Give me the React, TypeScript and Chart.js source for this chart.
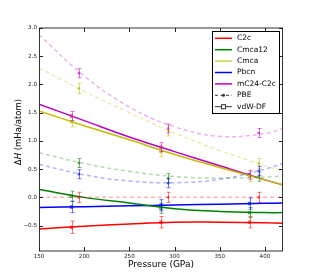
import { useEffect, useRef } from "react";
import { Chart, registerables } from "chart.js";
Chart.register(...registerables);

const seriesNames = ["C2c", "Cmca12", "Cmca", "Pbcn", "mC24-C2c"];
const seriesColors = ["#ff0000", "#008000", "#bfbf00", "#0000ff", "#bf00bf"];

// fitted curves (pressure grid)
const curveP = [150, 200, 250, 300, 350, 400, 420];
const vdwC2c = [-0.56, -0.51, -0.47, -0.44, -0.44, -0.45, -0.46];
const vdwCmca12 = [0.14, 0.0, -0.1, -0.2, -0.25, -0.27, -0.27];
const vdwCmca = [1.53, 1.27, 1.02, 0.76, 0.53, 0.31, 0.22];
const vdwPbcn = [-0.18, -0.165, -0.15, -0.135, -0.12, -0.105, -0.1];
const vdwMC24 = [1.65, 1.36, 1.07, 0.81, 0.56, 0.31, 0.22];

const pbeC2c = [0, 0, 0, 0, 0, 0, 0];
const pbeCmca12 = [0.79, 0.6, 0.46, 0.37, 0.34, 0.36, 0.38];
const pbeCmca = [2.29, 1.88, 1.5, 1.14, 0.83, 0.56, 0.47];
const pbePbcn = [0.585, 0.4, 0.29, 0.26, 0.32, 0.5, 0.6];
const pbeMC24 = [2.88, 2.15, 1.6, 1.25, 1.08, 1.13, 1.22];

// computed points with error bars
const vdwPtP = [186, 285, 383];
const pbePtP = [194, 293, 393];
const vdwPts = [
  [-0.53, -0.44, -0.44],
  [0.02, -0.195, -0.27],
  [1.34, 0.81, 0.37],
  [-0.17, -0.14, -0.11],
  [1.44, 0.89, 0.4],
];
const pbePts = [
  [0, 0, 0],
  [0.61, 0.34, 0.365],
  [1.93, 1.18, 0.6],
  [0.41, 0.25, 0.47],
  [2.2, 1.22, 1.14],
];
const vdwErr = [
  [0.11, 0.1, 0.1],
  [0.09, 0.09, 0.09],
  [0.09, 0.09, 0.09],
  [0.1, 0.1, 0.1],
  [0.08, 0.08, 0.08],
];
const pbeErr = [
  [0.09, 0.09, 0.09],
  [0.08, 0.08, 0.08],
  [0.09, 0.09, 0.09],
  [0.08, 0.08, 0.08],
  [0.08, 0.08, 0.08],
];

const xTicks = [150, 200, 250, 300, 350, 400];
const yTicks = [-0.5, 0, 0.5, 1, 1.5, 2, 2.5, 3];

function rgba(hex: string, a: number) {
  const r = parseInt(hex.slice(1, 3), 16);
  const g = parseInt(hex.slice(3, 5), 16);
  const b = parseInt(hex.slice(5, 7), 16);
  return `rgba(${r},${g},${b},${a})`;
}

const FONT = "'DejaVu Sans', sans-serif";

const decorPlugin = {
  id: "decor",
  afterDatasetsDraw(chart: any) {
    const ctx = chart.ctx;
    const xs = chart.scales.x;
    const ys = chart.scales.y;
    ctx.save();
    chart.data.datasets.forEach((ds: any) => {
      if (!ds.errs) return;
      ctx.strokeStyle = ds.errColor;
      ctx.lineWidth = 1;
      ds.data.forEach((pt: any, i: number) => {
        const x = Math.round(xs.getPixelForValue(pt.x)) + 0.5;
        const y1 = ys.getPixelForValue(pt.y - ds.errs[i]);
        const y2 = ys.getPixelForValue(pt.y + ds.errs[i]);
        ctx.beginPath();
        ctx.moveTo(x, y1);
        ctx.lineTo(x, y2);
        ctx.moveTo(x - 2, y1);
        ctx.lineTo(x + 2, y1);
        ctx.moveTo(x - 2, y2);
        ctx.lineTo(x + 2, y2);
        ctx.stroke();
      });
    });
    ctx.restore();
  },
  afterDraw(chart: any) {
    const ctx = chart.ctx;
    const xs = chart.scales.x;
    const ys = chart.scales.y;
    const { left, right, top, bottom } = chart.chartArea;
    ctx.save();
    // spines
    ctx.strokeStyle = "#999";
    ctx.lineWidth = 2;
    ctx.beginPath();
    ctx.moveTo(left, top);
    ctx.lineTo(right, top);
    ctx.moveTo(left, bottom);
    ctx.lineTo(right, bottom);
    ctx.stroke();
    ctx.strokeStyle = "#333";
    ctx.lineWidth = 1;
    ctx.beginPath();
    ctx.moveTo(left + 0.5, top);
    ctx.lineTo(left + 0.5, bottom);
    ctx.moveTo(right - 0.5, top);
    ctx.lineTo(right - 0.5, bottom);
    ctx.stroke();
    // inward ticks
    ctx.strokeStyle = "#222";
    ctx.beginPath();
    xTicks.forEach((v) => {
      const x = Math.round(xs.getPixelForValue(v)) + 0.5;
      ctx.moveTo(x, bottom);
      ctx.lineTo(x, bottom - 4);
      ctx.moveTo(x, top);
      ctx.lineTo(x, top + 4);
    });
    yTicks.forEach((v) => {
      const y = Math.round(ys.getPixelForValue(v)) + 0.5;
      ctx.moveTo(left, y);
      ctx.lineTo(left + 4, y);
      ctx.moveTo(right, y);
      ctx.lineTo(right - 4, y);
    });
    ctx.stroke();

    // axis titles
    ctx.fillStyle = "#000";
    ctx.font = `9px ${FONT}`;
    ctx.textAlign = "center";
    ctx.textBaseline = "alphabetic";
    ctx.fillText("Pressure (GPa)", (left + right) / 2, 267);

    ctx.save();
    ctx.translate(21, 132);
    ctx.rotate(-Math.PI / 2);
    const p1 = "Δ";
    const p2 = "H";
    const p3 = " (mHa/atom)";
    ctx.font = `8.5px ${FONT}`;
    const w1 = ctx.measureText(p1).width;
    const w3 = ctx.measureText(p3).width;
    ctx.font = `italic 8.5px ${FONT}`;
    const w2 = ctx.measureText(p2).width;
    const tot = w1 + w2 + w3;
    let cx = -tot / 2;
    ctx.textAlign = "left";
    ctx.font = `8.5px ${FONT}`;
    ctx.fillText(p1, cx, 0);
    cx += w1;
    ctx.font = `italic 8.5px ${FONT}`;
    ctx.fillText(p2, cx, 0);
    cx += w2;
    ctx.font = `8.5px ${FONT}`;
    ctx.fillText(p3, cx, 0);
    ctx.restore();

    // legend
    const bx = 212, by = 31, bw = 67, bh = 82;
    ctx.fillStyle = "#fff";
    ctx.fillRect(bx, by, bw, bh);
    ctx.strokeStyle = "#000";
    ctx.lineWidth = 1;
    ctx.strokeRect(bx + 0.5, by + 0.5, bw, bh);
    ctx.font = `7.5px ${FONT}`;
    ctx.textAlign = "left";
    ctx.textBaseline = "middle";
    const rowY = (i: number) => 38.3 + i * 11.4;
    seriesNames.forEach((n, i) => {
      const y = rowY(i);
      ctx.strokeStyle = i === 2 ? rgba(seriesColors[i], 0.7) : seriesColors[i];
      ctx.lineWidth = 1.5;
      ctx.beginPath();
      ctx.moveTo(215, y);
      ctx.lineTo(232, y);
      ctx.stroke();
      ctx.fillStyle = "#000";
      ctx.fillText(n, 237, y);
    });
    // PBE
    let y = rowY(5);
    ctx.strokeStyle = "#333";
    ctx.lineWidth = 1;
    ctx.setLineDash([3, 2.5]);
    ctx.beginPath();
    ctx.moveTo(215, y);
    ctx.lineTo(232, y);
    ctx.stroke();
    ctx.setLineDash([]);
    ctx.fillStyle = "#333";
    ctx.beginPath();
    ctx.arc(223.5, y, 1.5, 0, Math.PI * 2);
    ctx.fill();
    ctx.fillStyle = "#000";
    ctx.fillText("PBE", 237, y);
    // vdW-DF
    y = rowY(6);
    ctx.strokeStyle = "#333";
    ctx.beginPath();
    ctx.moveTo(215, y);
    ctx.lineTo(232, y);
    ctx.stroke();
    ctx.fillStyle = "#fff";
    ctx.fillRect(221.5, y - 2, 4, 4);
    ctx.strokeRect(221.5, y - 2, 4, 4);
    ctx.fillStyle = "#000";
    ctx.fillText("vdW-DF", 237, y);
    ctx.restore();
  },
};

export default function App() {
  const ref = useRef<HTMLCanvasElement>(null);
  useEffect(() => {
    document.body.style.margin = "0";
    const vdwCurves = [vdwC2c, vdwCmca12, vdwCmca, vdwPbcn, vdwMC24];
    const pbeCurves = [pbeC2c, pbeCmca12, pbeCmca, pbePbcn, pbeMC24];
    const datasets: any[] = [];
    pbeCurves.forEach((c, i) => {
      datasets.push({
        data: curveP.map((p, j) => ({ x: p, y: c[j] })),
        borderColor: rgba(seriesColors[i], 0.3),
        borderWidth: 1.5,
        borderDash: [4, 3],
        pointRadius: 0,
        tension: 0.4,
        fill: false,
      });
    });
    vdwCurves.forEach((c, i) => {
      datasets.push({
        data: curveP.map((p, j) => ({ x: p, y: c[j] })),
        borderColor: seriesColors[i],
        borderWidth: 1.5,
        pointRadius: 0,
        tension: 0.4,
        fill: false,
      });
    });
    pbePts.forEach((v, i) => {
      datasets.push({
        data: pbePtP.map((p, j) => ({ x: p, y: v[j] })),
        showLine: false,
        pointStyle: "circle",
        pointRadius: 1,
        pointBackgroundColor: rgba(seriesColors[i], 0.5),
        pointBorderColor: rgba(seriesColors[i], 0.5),
        borderColor: rgba(seriesColors[i], 0.5),
        errs: pbeErr[i],
        errColor: rgba(seriesColors[i], 0.55),
      });
    });
    vdwPts.forEach((v, i) => {
      datasets.push({
        data: vdwPtP.map((p, j) => ({ x: p, y: v[j] })),
        showLine: false,
        pointStyle: "rect",
        pointRadius: 1.8,
        pointBackgroundColor: rgba(seriesColors[i], 0.5),
        pointBorderColor: rgba(seriesColors[i], 0.6),
        borderColor: rgba(seriesColors[i], 0.6),
        errs: vdwErr[i],
        errColor: rgba(seriesColors[i], 0.55),
      });
    });
    const chart = new Chart(ref.current!, {
      type: "line",
      data: { datasets },
      options: {
        animation: false,
        responsive: false,
        devicePixelRatio: 1,
        layout: { padding: { left: 0, right: 32, top: 28, bottom: 0 } },
        plugins: { legend: { display: false }, tooltip: { enabled: false } },
        scales: {
          x: {
            type: "linear",
            min: 150,
            max: 420,
            grid: { display: false, drawTicks: false },
            border: { display: false },
            ticks: {
              font: { size: 5.6, family: FONT },
              color: "#222",
              padding: 2,
              maxRotation: 0,
              callback: (v: any) => String(v),
            },
            afterBuildTicks: (s: any) => {
              s.ticks = xTicks.map((v) => ({ value: v }));
            },
            afterFit: (s: any) => {
              s.height = 29;
            },
          },
          y: {
            type: "linear",
            min: -0.95,
            max: 3.0,
            grid: { display: false, drawTicks: false },
            border: { display: false },
            ticks: {
              font: { size: 5.6, family: FONT },
              color: "#222",
              padding: 2,
              callback: (v: any) => Number(v).toFixed(1).replace("-", "\u2212"),
            },
            afterBuildTicks: (s: any) => {
              s.ticks = yTicks.map((v) => ({ value: v }));
            },
            afterFit: (s: any) => {
              s.width = 39;
            },
          },
        },
      },
      plugins: [decorPlugin],
    });
    return () => chart.destroy();
  }, []);
  return <canvas ref={ref} width={315} height={280} style={{ display: "block" }} />;
}
